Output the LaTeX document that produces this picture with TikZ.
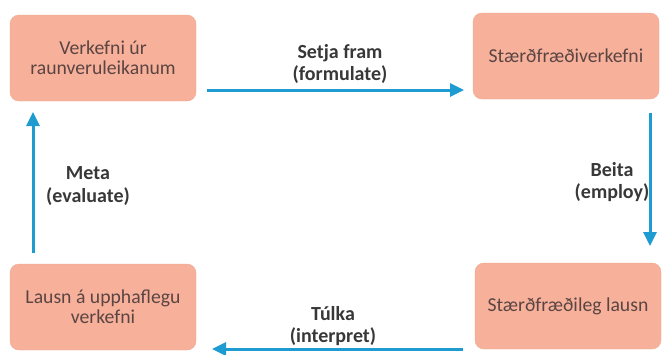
\documentclass[tikz,border=0pt]{standalone}
\usepackage{fontspec}
\setmainfont{Carlito}
\usetikzlibrary{arrows.meta}
\definecolor{boxfill}{HTML}{F7B09A}
\definecolor{boxtext}{HTML}{5A4543}
\definecolor{arrowc}{HTML}{1E9BD0}
\definecolor{labtext}{HTML}{383838}
\tikzset{
  box/.style={draw=boxfill!90!black!40!boxfill, fill=boxfill, rounded corners=9pt, text=boxtext,
    minimum width=186pt, minimum height=86pt, align=center, inner sep=0pt,
    font=\fontsize{19.7}{20}\selectfont},
  flow/.style={draw=arrowc, line width=3pt, -{Triangle[length=14pt,width=13pt]}},
  lab/.style={text=labtext, align=center, font=\bfseries\fontsize{20}{22.5}\selectfont}
}
\begin{document}
\begin{tikzpicture}[x=1pt,y=-1pt]
\useasboundingbox (0,0) rectangle (663,354);
\node[box] (rw) at (103,58) {Verkefni úr\\raunveruleikanum};
\node[box] (mp) at (566,56) {Stærðfræðiverkefni};
\node[box] (ms) at (568,306) {Stærðfræðileg lausn};
\node[box] (rs) at (103,307) {Lausn á upphaflegu\\verkefni};
\coordinate (t1) at (207,90);
\coordinate (t2) at (464,90);
\coordinate (r1) at (650,113);
\coordinate (r2) at (650,246);
\coordinate (b1) at (463,349);
\coordinate (b2) at (212,349);
\coordinate (l1) at (33,253);
\coordinate (l2) at (33,112);
\draw[flow] (t1) -- (t2);
\draw[flow] (r1) -- (r2);
\draw[flow] (b1) -- (b2);
\draw[flow] (l1) -- (l2);
\node[lab] (lf) at (340,64) {Setja fram\\(formulate)};
\node[lab] (le) at (612,182) {Beita\\(employ)};
\node[lab] (li) at (333,326) {Túlka\\(interpret)};
\node[lab] (lv) at (88,186) {Meta\\(evaluate)};
\end{tikzpicture}
\end{document}
